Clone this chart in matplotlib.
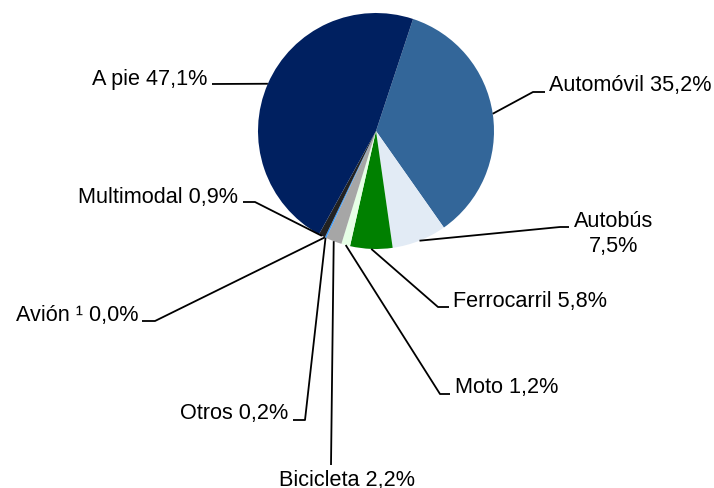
import numpy as np
import matplotlib
matplotlib.use("Agg")
import matplotlib.pyplot as plt

# Datos (porcentaje de viajes por modo)
modos = ["Automóvil", "Autobús", "Ferrocarril", "Moto", "Bicicleta",
         "Otros", "Avión \u00b9", "Multimodal", "A pie"]
valores = [35.2, 7.5, 5.8, 1.2, 2.2, 0.2, 0.0, 0.9, 47.1]
colores = ["#336699", "#e2ebf5", "#008000", "#e6ffe6", "#a6a6a6",
           "#3399ff", "#3399ff", "#222222", "#002060"]

plt.rcParams['font.family'] = ['Liberation Sans', 'DejaVu Sans']

# centro y radio del pastel en pixeles
CX, CY, R = 376, 132, 118


def px(x, y):
    return ((x - CX) / R, (CY - y) / R)


# posiciones de etiquetas (pixeles): texto, alineación, tramos de la guía
etiquetas = [
    ((549, 85), "left", [(533, 93), (545, 93)]),
    ((614, 234), "center", [(560, 228), (569, 228)]),
    ((453, 302), "left", [(438, 308), (449, 308)]),
    ((455, 388), "left", [(440, 395), (450, 395)]),
    ((347, 480), "center", [(331, 466)]),
    ((288, 414), "right", [(305, 421), (293, 421)]),
    ((138, 316), "right", [(155, 322), (142, 322)]),
    ((238, 197), "right", [(255, 203), (243, 203)]),
    ((207, 79), "right", [(212, 85)]),
]

fig = plt.figure(figsize=(7.14, 4.89), dpi=100)
ax = fig.add_axes([0, 0, 1, 1])

start = 71.7
wedges, _ = ax.pie(valores, colors=colores, startangle=start, counterclock=False,
                   radius=1.0, wedgeprops=dict(linewidth=0))

total = sum(valores)
ang = start
for nombre, v, (pos, ha, tramo) in zip(modos, valores, etiquetas):
    ext = 360.0 * v / total
    mid = np.deg2rad(ang - ext / 2)
    ang -= ext
    ancla = (np.cos(mid), np.sin(mid))
    pts = [ancla] + [px(*p) for p in tramo]
    xs, ys = zip(*pts)
    ax.plot(xs, ys, color="black", lw=1.3, solid_capstyle="butt")
    txt = f"{v:.1f}".replace(".", ",") + "%"
    if nombre == "Autobús":
        s = f"{nombre}\n{txt}"
    else:
        s = f"{nombre} {txt}"
    tx, ty = px(*pos)
    ax.text(tx, ty, s, ha=ha, va="center", fontsize=15.6, color="black",
            linespacing=1.25, multialignment="center")

ax.set_xlim(-CX / R, (714 - CX) / R)
ax.set_ylim(-(489 - CY) / R, CY / R)
ax.set_aspect("auto")
ax.axis("off")

fig.savefig("out.png", dpi=100)
